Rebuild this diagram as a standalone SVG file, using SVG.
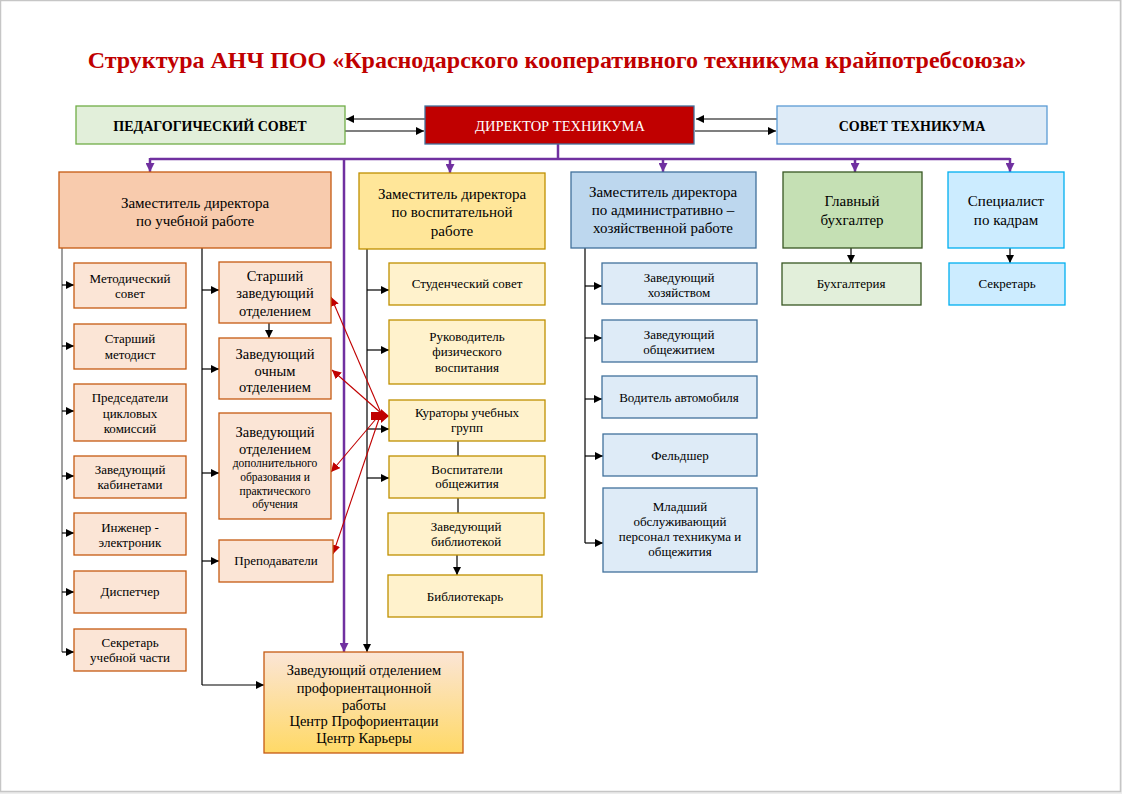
<svg xmlns="http://www.w3.org/2000/svg" width="1122" height="794" viewBox="0 0 1122 794">
<defs>
<marker id="ab" viewBox="0 0 10 10" refX="10" refY="5" markerWidth="8" markerHeight="8" markerUnits="userSpaceOnUse" orient="auto"><path d="M0,0 L10,5 L0,10 Z" fill="#000"/></marker>
<marker id="ap" viewBox="0 0 10 10" refX="10" refY="5" markerWidth="9" markerHeight="9" markerUnits="userSpaceOnUse" orient="auto"><path d="M0,0 L10,5 L0,10 Z" fill="#7030A0"/></marker>
<marker id="ar" viewBox="0 0 10 10" refX="10" refY="5" markerWidth="9" markerHeight="9" markerUnits="userSpaceOnUse" orient="auto"><path d="M0,0 L10,5 L0,10 Z" fill="#C00000"/></marker>
<linearGradient id="gp" x1="0" y1="0" x2="0" y2="1"><stop offset="0" stop-color="#FBE5D6"/><stop offset="1" stop-color="#FFD966"/></linearGradient>
</defs>
<style>
text{font-family:"Liberation Serif","Times New Roman",serif;text-anchor:middle;fill:#000}
.t15{font-size:15px}
.t14{font-size:14.5px}
.t13{font-size:13px}
.t11{font-size:11.5px}
.b{font-weight:bold;font-size:14px}
.k{stroke:#000;stroke-width:1.2;fill:none}
.kg{stroke:#7F7F7F;stroke-width:1.5;fill:none}
.p{stroke:#7030A0;stroke-width:2.5;fill:none}
.r{stroke:#C00000;stroke-width:1.1;fill:none}
.or{fill:#FBE5D6;stroke:#C55A11;stroke-width:1.3}
.ye{fill:#FFF2CC;stroke:#BF9000;stroke-width:1.3}
.bl{fill:#DEEBF7;stroke:#41719C;stroke-width:1.3}
</style>
<rect x="0" y="0" width="1122" height="794" fill="#EDEDED"/>
<rect x="0.5" y="0.5" width="1120" height="791" fill="#FFFFFF" stroke="#C6C6C6" stroke-width="1.5"/>
<text x="557" y="68" style="font-size:24px;font-weight:bold;fill:#C00000">Структура АНЧ ПОО «Краснодарского кооперативного техникума крайпотребсоюза»</text>

<g id="connectors">
<line class="k" x1="425" y1="119" x2="346" y2="119" marker-end="url(#ab)"/>
<line class="k" x1="345" y1="131" x2="424" y2="131" marker-end="url(#ab)"/>
<line class="k" x1="777" y1="119" x2="696" y2="119" marker-end="url(#ab)"/>
<line class="k" x1="695" y1="131" x2="776" y2="131" marker-end="url(#ab)"/>
<polyline class="p" points="558,144 558,159"/>
<line class="p" x1="150" y1="159" x2="1010" y2="159"/>
<line class="p" x1="150" y1="158" x2="150" y2="172" marker-end="url(#ap)"/>
<line class="p" x1="450" y1="158" x2="450" y2="173" marker-end="url(#ap)"/>
<line class="p" x1="663" y1="158" x2="663" y2="172" marker-end="url(#ap)"/>
<line class="p" x1="855" y1="158" x2="855" y2="172" marker-end="url(#ap)"/>
<line class="p" x1="1010" y1="158" x2="1010" y2="172" marker-end="url(#ap)"/>
<line class="p" x1="344" y1="159" x2="344" y2="652" marker-end="url(#ap)"/>

<line class="kg" x1="62" y1="248" x2="62" y2="652"/>
<line class="k" x1="62" y1="285" x2="74" y2="285" marker-end="url(#ab)"/>
<line class="k" x1="62" y1="346" x2="74" y2="346" marker-end="url(#ab)"/>
<line class="k" x1="62" y1="411" x2="74" y2="411" marker-end="url(#ab)"/>
<line class="k" x1="62" y1="476" x2="74" y2="476" marker-end="url(#ab)"/>
<line class="k" x1="62" y1="533" x2="74" y2="533" marker-end="url(#ab)"/>
<line class="k" x1="62" y1="592" x2="74" y2="592" marker-end="url(#ab)"/>
<line class="k" x1="62" y1="652" x2="74" y2="652" marker-end="url(#ab)"/>

<line class="k" x1="202" y1="248" x2="202" y2="685"/>
<line class="k" x1="202" y1="290" x2="219" y2="290" marker-end="url(#ab)"/>
<line class="k" x1="202" y1="369" x2="219" y2="369" marker-end="url(#ab)"/>
<line class="k" x1="202" y1="473" x2="219" y2="473" marker-end="url(#ab)"/>
<line class="k" x1="202" y1="561" x2="219" y2="561" marker-end="url(#ab)"/>
<line class="k" x1="202" y1="685" x2="264" y2="685" marker-end="url(#ab)"/>
<line class="k" x1="269" y1="323" x2="269" y2="338" marker-end="url(#ab)"/>

<line class="k" x1="367" y1="249" x2="367" y2="652" marker-end="url(#ab)"/>
<line class="k" x1="367" y1="290" x2="389" y2="290" marker-end="url(#ab)"/>
<line class="k" x1="367" y1="350" x2="389" y2="350" marker-end="url(#ab)"/>
<line class="k" x1="367" y1="429" x2="389" y2="429" marker-end="url(#ab)"/>
<line class="k" x1="367" y1="478" x2="389" y2="478" marker-end="url(#ab)"/>
<line class="k" x1="458" y1="441" x2="458" y2="456"/>
<line class="k" x1="458" y1="498" x2="458" y2="513"/>
<line class="k" x1="457" y1="555" x2="457" y2="575" marker-end="url(#ab)"/>

<line class="k" x1="585" y1="248" x2="585" y2="543"/>
<line class="k" x1="585" y1="286" x2="602" y2="286" marker-end="url(#ab)"/>
<line class="k" x1="585" y1="338" x2="602" y2="338" marker-end="url(#ab)"/>
<line class="k" x1="585" y1="399" x2="602" y2="399" marker-end="url(#ab)"/>
<line class="k" x1="585" y1="456" x2="603" y2="456" marker-end="url(#ab)"/>
<line class="k" x1="585" y1="543" x2="603" y2="543" marker-end="url(#ab)"/>

<line class="k" x1="851" y1="248" x2="851" y2="263" marker-end="url(#ab)"/>
<line class="k" x1="1010" y1="248" x2="1010" y2="263" marker-end="url(#ab)"/>

<line class="r" x1="381" y1="413" x2="331" y2="297" marker-end="url(#ar)"/>
<line class="r" x1="381" y1="413" x2="332" y2="370" marker-end="url(#ar)"/>
<line class="r" x1="381" y1="413" x2="331" y2="472" marker-end="url(#ar)"/>
<line class="r" x1="381" y1="413" x2="333" y2="554" marker-end="url(#ar)"/>
<path d="M371,412 L381,412 L381,409 L389,416 L381,423 L381,420 L371,420 Z" fill="#C00000"/>
</g>

<g id="ped_sovet"><rect x="76" y="106" width="269" height="38" fill="#E2EFDA" stroke="#70AD47" stroke-width="1.3"/><text class="b" x="210" y="131">ПЕДАГОГИЧЕСКИЙ СОВЕТ</text></g>
<g id="director"><rect x="425" y="106" width="269" height="38" fill="#C00000" stroke="#41719C" stroke-width="1.3"/><text x="560" y="131" style="font-size:14.5px;fill:#FFFFFF">ДИРЕКТОР ТЕХНИКУМА</text></g>
<g id="sovet_tech"><rect x="777" y="106" width="270" height="38" fill="#DEEBF7" stroke="#5B9BD5" stroke-width="1.3"/><text class="b" x="912" y="131">СОВЕТ ТЕХНИКУМА</text></g>

<g id="zam_uch"><rect x="59" y="172" width="272" height="76" fill="#F8CBAD" stroke="#C55A11" stroke-width="1.3"/><text class="t15"><tspan x="195" y="208">Заместитель директора</tspan><tspan x="195" y="226">по учебной работе</tspan></text></g>
<g id="zam_vosp"><rect x="359" y="173" width="186" height="76" fill="#FFE699" stroke="#BF9000" stroke-width="1.3"/><text class="t15"><tspan x="452" y="199">Заместитель директора</tspan><tspan x="452" y="217">по воспитательной</tspan><tspan x="452" y="236">работе</tspan></text></g>
<g id="zam_ahr"><rect x="571" y="172" width="185" height="76" fill="#BDD7EE" stroke="#41719C" stroke-width="1.3"/><text class="t15"><tspan x="663" y="197">Заместитель директора</tspan><tspan x="663" y="215">по административно –</tspan><tspan x="663" y="233">хозяйственной работе</tspan></text></g>
<g id="gl_buh"><rect x="783" y="172" width="139" height="76" fill="#C5E0B4" stroke="#385723" stroke-width="1.3"/><text class="t15"><tspan x="852" y="206">Главный</tspan><tspan x="852" y="225">бухгалтер</tspan></text></g>
<g id="spec_kadr"><rect x="948" y="172" width="116" height="76" fill="#CCECFF" stroke="#00B0F0" stroke-width="1.3"/><text class="t15"><tspan x="1006" y="206">Специалист</tspan><tspan x="1006" y="225">по кадрам</tspan></text></g>

<g id="metod_sovet"><rect class="or" x="74" y="263" width="112" height="45"/><text class="t13"><tspan x="130" y="283">Методический</tspan><tspan x="130" y="298">совет</tspan></text></g>
<g id="st_metodist"><rect class="or" x="74" y="324" width="112" height="45"/><text class="t13"><tspan x="130" y="343">Старший</tspan><tspan x="130" y="359">методист</tspan></text></g>
<g id="predsedateli"><rect class="or" x="74" y="384" width="112" height="57"/><text class="t13"><tspan x="130" y="402">Председатели</tspan><tspan x="130" y="418">цикловых</tspan><tspan x="130" y="433">комиссий</tspan></text></g>
<g id="zav_kab"><rect class="or" x="74" y="456" width="112" height="42"/><text class="t13"><tspan x="130" y="474">Заведующий</tspan><tspan x="130" y="489">кабинетами</tspan></text></g>
<g id="inzhener"><rect class="or" x="74" y="513" width="112" height="42"/><text class="t13"><tspan x="130" y="532">Инженер -</tspan><tspan x="130" y="547">электроник</tspan></text></g>
<g id="dispetcher"><rect class="or" x="74" y="571" width="112" height="42"/><text class="t13" x="130" y="596">Диспетчер</text></g>
<g id="sekr_uch"><rect class="or" x="74" y="629" width="112" height="42"/><text class="t13"><tspan x="130" y="647">Секретарь</tspan><tspan x="130" y="662">учебной части</tspan></text></g>

<g id="st_zav_otd"><rect class="or" x="219" y="262" width="112" height="61"/><text class="t14"><tspan x="275" y="281">Старший</tspan><tspan x="275" y="298">заведующий</tspan><tspan x="275" y="316">отделением</tspan></text></g>
<g id="zav_ochn"><rect class="or" x="219" y="338" width="112" height="61"/><text class="t14"><tspan x="275" y="359">Заведующий</tspan><tspan x="275" y="376">очным</tspan><tspan x="275" y="392">отделением</tspan></text></g>
<g id="zav_dop"><rect class="or" x="219" y="413" width="112" height="106"/><text class="t14"><tspan x="275" y="437">Заведующий</tspan><tspan x="275" y="454">отделением</tspan></text><text class="t11"><tspan x="275" y="467">дополнительного</tspan><tspan x="275" y="481">образования и</tspan><tspan x="275" y="495">практического</tspan><tspan x="275" y="508">обучения</tspan></text></g>
<g id="prepodavateli"><rect class="or" x="219" y="540" width="114" height="42"/><text class="t13" x="276" y="565">Преподаватели</text></g>
<g id="zav_proforient"><rect x="264" y="652" width="199" height="101" fill="url(#gp)" stroke="#C55A11" stroke-width="1.3"/><text class="t14"><tspan x="364" y="675">Заведующий отделением</tspan><tspan x="364" y="693">профориентационной</tspan><tspan x="364" y="710">работы</tspan><tspan x="364" y="726">Центр Профориентации</tspan><tspan x="364" y="743">Центр Карьеры</tspan></text></g>

<g id="stud_sovet"><rect class="ye" x="389" y="263" width="156" height="42"/><text class="t13" x="467" y="288">Студенческий совет</text></g>
<g id="ruk_fiz"><rect class="ye" x="389" y="320" width="156" height="64"/><text class="t13"><tspan x="467" y="341">Руководитель</tspan><tspan x="467" y="356">физического</tspan><tspan x="467" y="372">воспитания</tspan></text></g>
<g id="kuratory"><rect class="ye" x="389" y="400" width="156" height="41"/><text class="t13"><tspan x="467" y="417">Кураторы учебных</tspan><tspan x="467" y="432">групп</tspan></text></g>
<g id="vospitateli"><rect class="ye" x="389" y="456" width="156" height="42"/><text class="t13"><tspan x="467" y="474">Воспитатели</tspan><tspan x="467" y="488">общежития</tspan></text></g>
<g id="zav_bibl"><rect class="ye" x="388" y="513" width="156" height="42"/><text class="t13"><tspan x="466" y="531">Заведующий</tspan><tspan x="466" y="546">библиотекой</tspan></text></g>
<g id="bibliotekar"><rect class="ye" x="388" y="575" width="154" height="42"/><text class="t13" x="465" y="601">Библиотекарь</text></g>

<g id="zav_hoz"><rect class="bl" x="602" y="263" width="155" height="41"/><text class="t13"><tspan x="679" y="282">Заведующий</tspan><tspan x="679" y="297">хозяйством</tspan></text></g>
<g id="zav_obsh"><rect class="bl" x="602" y="320" width="155" height="42"/><text class="t13"><tspan x="679" y="339">Заведующий</tspan><tspan x="679" y="354">общежитием</tspan></text></g>
<g id="voditel"><rect class="bl" x="602" y="376" width="155" height="42"/><text class="t13" x="679" y="402">Водитель автомобиля</text></g>
<g id="feldsher"><rect class="bl" x="603" y="434" width="154" height="42"/><text class="t13" x="680" y="460">Фельдшер</text></g>
<g id="ml_personal"><rect class="bl" x="603" y="488" width="154" height="84"/><text class="t13"><tspan x="680" y="511">Младший</tspan><tspan x="680" y="526">обслуживающий</tspan><tspan x="680" y="541">персонал техникума и</tspan><tspan x="680" y="556">общежития</tspan></text></g>

<g id="buhgalteriya"><rect x="782" y="263" width="139" height="42" fill="#E2EFDA" stroke="#385723" stroke-width="1.3"/><text class="t13" x="851" y="288">Бухгалтерия</text></g>
<g id="sekretar"><rect x="949" y="263" width="116" height="42" fill="#CCECFF" stroke="#00B0F0" stroke-width="1.3"/><text class="t13" x="1007" y="288">Секретарь</text></g>
</svg>
